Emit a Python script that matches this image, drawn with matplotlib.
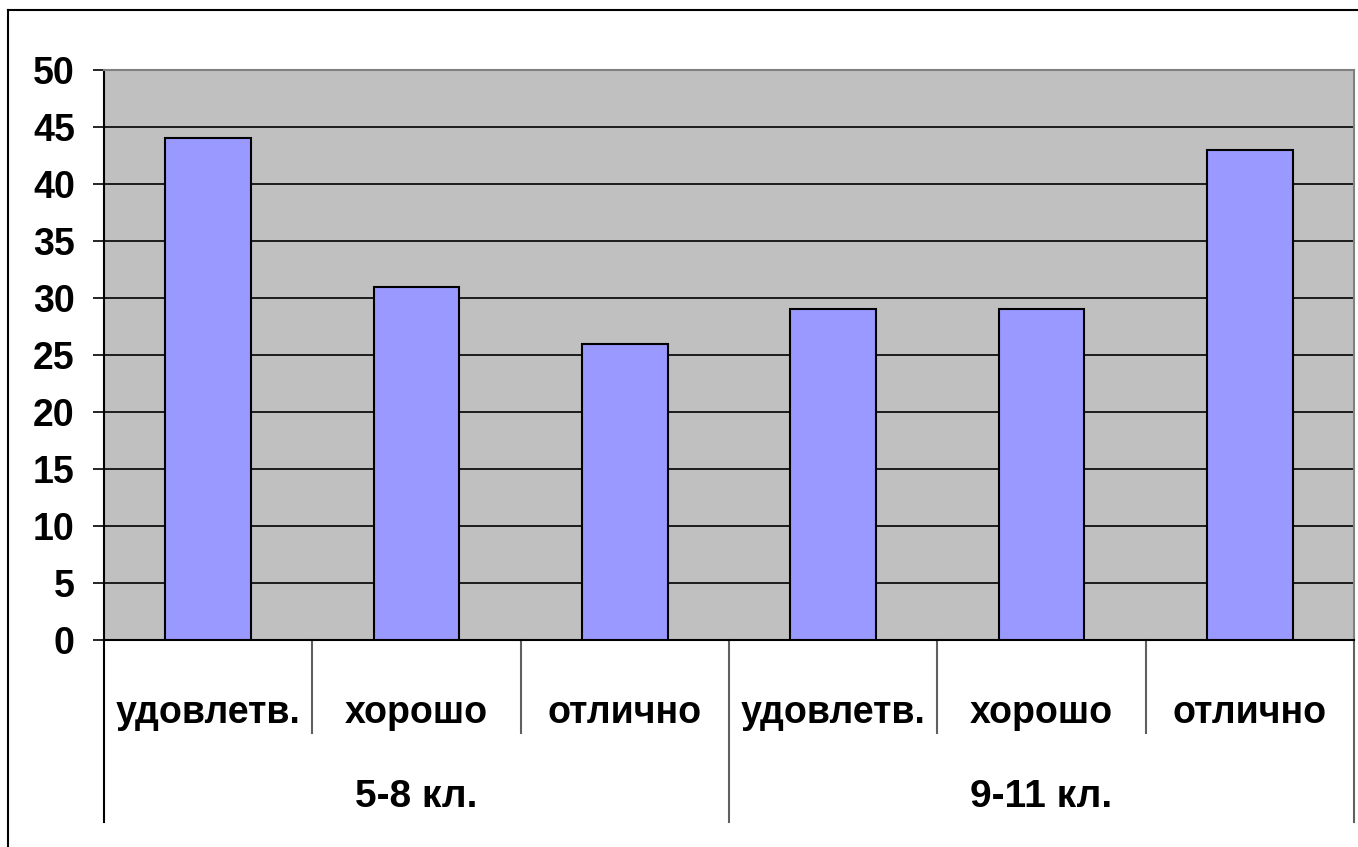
import matplotlib
matplotlib.use("Agg")
import matplotlib.pyplot as plt
from matplotlib.lines import Line2D

categories = ["удовлетв.", "хорошо", "отлично", "удовлетв.", "хорошо", "отлично"]
groups = ["5-8 кл.", "9-11 кл."]
values = [44, 31, 26, 29, 29, 43]
yticks = [0, 5, 10, 15, 20, 25, 30, 35, 40, 45, 50]

plt.rcParams["font.family"] = ["Liberation Sans", "DejaVu Sans"]
plt.rcParams["font.weight"] = "bold"

W, H = 1358, 847
fig = plt.figure(figsize=(W / 100, H / 100), dpi=100)
ax = fig.add_axes([104 / W, (H - 640) / H, 1250 / W, 570 / H])
ax.set_facecolor("#C0C0C0")

x = list(range(len(values)))
ax.bar(x, values, width=0.41, color="#9999FF", edgecolor="black",
       linewidth=1.5, zorder=3)

ax.set_xlim(-0.5, len(values) - 0.5)
ax.set_ylim(0, 50)
ax.set_yticks(yticks)
ax.set_yticklabels([str(t) for t in yticks], fontsize=27, fontweight="bold")
ax.tick_params(axis="y", length=8, width=1.2, pad=13, colors="black")
ax.set_xticks([])
for t in yticks[1:-1]:
    ax.axhline(t, color="black", linewidth=1.2, zorder=1)

ax.spines["left"].set_color("black")
ax.spines["bottom"].set_color("black")
ax.spines["top"].set_color("#808080")
ax.spines["right"].set_color("#808080")
for s in ax.spines.values():
    s.set_linewidth(1.5)

tr = ax.get_xaxis_transform()
# category and group labels
for i, lab in enumerate(categories):
    ax.text(i, -0.128, lab, transform=tr, ha="center", va="center",
            fontsize=27, fontweight="bold")
for g, lab in enumerate(groups):
    ax.text(g * 3 + 1, -0.276, lab, transform=tr, ha="center", va="center",
            fontsize=28, fontweight="bold")

# separators between categories and groups
for i in range(len(values) + 1):
    xs = i - 0.5
    low = -0.319 if i % 3 == 0 else -0.163
    col = "black" if i == 0 else "#606060"
    ax.plot([xs, xs], [0, low], transform=tr, color=col, linewidth=1.5,
            clip_on=False)

# chart outer frame
fig.add_artist(Line2D([8 / W, 8 / W], [0, 1 - 10 / H], color="black",
                      linewidth=1.5))
fig.add_artist(Line2D([8 / W, 1], [1 - 10 / H, 1 - 10 / H], color="black",
                      linewidth=1.5))

fig.savefig("out.png", dpi=100)
